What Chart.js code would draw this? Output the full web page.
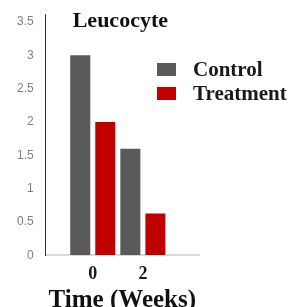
<!DOCTYPE html>
<html>
    <style>
        body {
            margin: 0;
            padding: 0;
            background-color: white;
        }
        .wrap {
            position: relative;
            width: 292px;
            height: 307px;
        }
        #legend {
            position: absolute;
            left: 157px;
            top: 57px;
            font-family: 'Liberation Serif', serif;
            font-weight: bold;
            font-size: 21px;
            color: #1a1a1a;
        }
        #legend .row {
            display: flex;
            align-items: center;
            height: 24px;
        }
        #legend .box {
            width: 19px;
            height: 13px;
            margin-right: 17px;
        }
    </style>
    <script src="https://cdn.jsdelivr.net/npm/chart.js"></script>
    <body>
        <div class="wrap">
            <canvas id="myChart" width="292" height="307"></canvas>
            <div id="legend"></div>
        </div>
    </body>
    <script>
        // data
        const weeks = [0, 2];
        const controlValues = [3.0, 1.6];
        const treatmentValues = [2.0, 0.63];
        const seriesNames = ['Control', 'Treatment'];
        const seriesColors = ['#5a5a5a', '#c00000'];
        const yTicks = [0, 0.5, 1, 1.5, 2, 2.5, 3, 3.5];
        const chartTitle = 'Leucocyte';
        const xTitle = 'Time (Weeks)';

        const serif = "'Liberation Serif', 'Times New Roman', serif";

        function toPoints(values) {
            return values.map((v, i) => ({ x: weeks[i], y: v }));
        }

        // title drawn centred over the plot area
        const titlePlugin = {
            id: 'innerTitle',
            afterDraw(chart) {
                const ctx = chart.ctx;
                const area = chart.chartArea;
                ctx.save();
                ctx.font = 'bold 22px ' + serif;
                ctx.fillStyle = '#111';
                ctx.textAlign = 'center';
                ctx.textBaseline = 'alphabetic';
                ctx.fillText(chartTitle, (area.left + area.right) / 2 - 2, area.top + 13);
                ctx.restore();
            }
        };

        const data = {
            datasets: [
                {
                    label: seriesNames[0],
                    data: toPoints(controlValues),
                    backgroundColor: seriesColors[0],
                    categoryPercentage: 1,
                    barPercentage: 0.8
                },
                {
                    label: seriesNames[1],
                    data: toPoints(treatmentValues),
                    backgroundColor: seriesColors[1],
                    categoryPercentage: 1,
                    barPercentage: 0.8
                }
            ]
        };

        const config = {
            type: 'bar',
            data: data,
            plugins: [titlePlugin],
            options: {
                responsive: false,
                animation: false,
                devicePixelRatio: 1,
                layout: {
                    padding: { left: 12, right: 93, top: 14, bottom: 0 }
                },
                plugins: {
                    legend: { display: false },
                    tooltip: { enabled: false }
                },
                scales: {
                    x: {
                        type: 'linear',
                        offset: false,
                        min: -1.88,
                        max: 4.24,
                        afterBuildTicks: (scale) => {
                            scale.ticks = weeks.map(v => ({ value: v }));
                        },
                        grid: { display: false, drawTicks: false, offset: false },
                        border: { display: true, color: '#d9d9d9', width: 2 },
                        ticks: {
                            padding: 9,
                            color: '#1a1a1a',
                            font: { family: serif, size: 18, weight: 'bold', lineHeight: 1.1 }
                        },
                        title: {
                            display: true,
                            text: xTitle,
                            color: '#111',
                            padding: 0,
                            font: { family: serif, size: 25, weight: 'bold', lineHeight: 0.55 }
                        }
                    },
                    y: {
                        min: 0,
                        max: 3.62,
                        afterBuildTicks: (scale) => {
                            scale.ticks = yTicks.map(v => ({ value: v }));
                        },
                        grid: {
                            display: true,
                            drawOnChartArea: false,
                            drawTicks: true,
                            tickLength: 7,
                            tickColor: 'rgba(0,0,0,0)'
                        },
                        border: { display: true, color: '#333', width: 1 },
                        ticks: {
                            padding: 5,
                            color: '#808080',
                            font: { family: "'Liberation Sans', sans-serif", size: 12 },
                            callback: (v) => String(v)
                        }
                    }
                }
            }
        };

        const myChart = new Chart(document.getElementById('myChart'), config);

        // legend built from the series names and colours
        const legendDiv = document.getElementById('legend');
        seriesNames.forEach((name, i) => {
            const row = document.createElement('div');
            row.className = 'row';
            const box = document.createElement('div');
            box.className = 'box';
            box.style.backgroundColor = seriesColors[i];
            const label = document.createElement('span');
            label.textContent = name;
            row.appendChild(box);
            row.appendChild(label);
            legendDiv.appendChild(row);
        });
    </script>
</html>
